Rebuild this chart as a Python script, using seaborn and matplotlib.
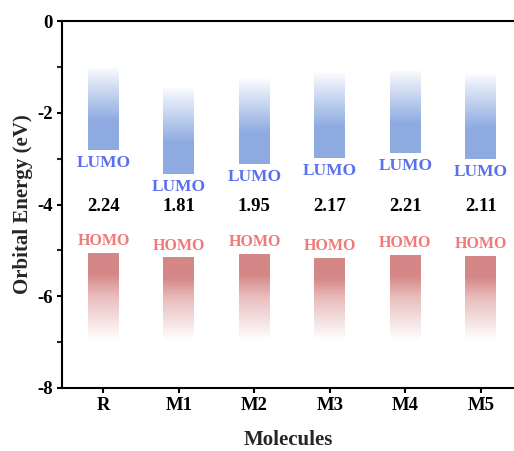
import numpy as np
import pandas as pd
import matplotlib
matplotlib.use("Agg")
import matplotlib.pyplot as plt
from matplotlib.colors import LinearSegmentedColormap
from matplotlib.ticker import MultipleLocator
import seaborn as sns

molecules = ["R", "M1", "M2", "M3", "M4", "M5"]
lumo = [-2.81, -3.34, -3.12, -2.99, -2.88, -3.01]
homo = [-5.05, -5.15, -5.07, -5.16, -5.09, -5.12]
gap_labels = ["2.24", "1.81", "1.95", "2.17", "2.21", "2.11"]
lumo_top = [-1.02, -1.46, -1.26, -1.13, -1.09, -1.15]
homo_bottom = [-6.95, -6.95, -6.95, -6.95, -6.95, -6.95]

sns.set_theme(style="white")
plt.rcParams['font.family'] = ['Liberation Serif', 'DejaVu Serif']
plt.rcParams['font.weight'] = 'bold'
plt.rcParams['axes.unicode_minus'] = False

fig = plt.figure(figsize=(5.14, 4.51), dpi=100)
ax = fig.add_axes([0.1206, 0.1397, 0.8794, 0.8133])

df = pd.DataFrame({
    "Molecules": molecules,
    "lumo_h": np.array(lumo_top) - np.array(lumo),
    "lumo_b": lumo,
    "homo_h": np.array(homo) - np.array(homo_bottom),
    "homo_b": homo_bottom,
})

n0 = len(ax.patches)
sns.barplot(data=df, x="Molecules", y="lumo_h", bottom=df["lumo_b"].values,
            width=0.41, color="#8caae0", ax=ax, errorbar=None)
lumo_patches = ax.patches[n0:]
n1 = len(ax.patches)
sns.barplot(data=df, x="Molecules", y="homo_h", bottom=df["homo_b"].values,
            width=0.41, color="#d68787", ax=ax, errorbar=None)
homo_patches = ax.patches[n1:]

blue_cmap = LinearSegmentedColormap.from_list(
    "b", [(0.0, "#8eabe1"), (0.36, "#8eabe1"), (1.0, "#fbfcfe")])
red_cmap = LinearSegmentedColormap.from_list(
    "r", [(0.0, "#ffffff"), (0.5, "#e9bdbd"), (0.75, "#d58787"), (1.0, "#d58787")])

grad = np.linspace(0, 1, 256).reshape(-1, 1)
for patches, cmap in ((lumo_patches, blue_cmap), (homo_patches, red_cmap)):
    for p in patches:
        x0, y0 = p.get_x(), p.get_y()
        w, h = p.get_width(), p.get_height()
        p.set_facecolor("none")
        p.set_edgecolor("none")
        im = ax.imshow(grad, cmap=cmap, aspect="auto", origin="lower",
                       extent=[x0, x0 + w, y0, y0 + h], zorder=p.get_zorder())
        im.set_clip_path(p)

for i in range(len(molecules)):
    ax.text(i, lumo[i] - 0.1, "LUMO", color="#5b70ee", fontsize=12.5,
            fontweight="bold", ha="center", va="top")
    ax.text(i, homo[i] + 0.08, "HOMO", color="#f07a7a", fontsize=11.5,
            fontweight="bold", ha="center", va="bottom")
    ax.text(i, -4.05, gap_labels[i], color="black", fontsize=13.5,
            fontweight="bold", ha="center", va="center")

ax.set_xlim(-0.55, 5.44)
ax.set_ylim(-8, 0)
ax.yaxis.set_major_locator(MultipleLocator(2))
ax.yaxis.set_minor_locator(MultipleLocator(1))
ax.set_xlabel("Molecules", fontsize=15, fontweight="bold", labelpad=11)
ax.set_ylabel("Orbital Energy (eV)", fontsize=15, fontweight="bold", labelpad=3)

for s in ["left", "bottom", "top"]:
    ax.spines[s].set_linewidth(1.5)
    ax.spines[s].set_color("black")
ax.spines["right"].set_visible(False)

ax.tick_params(axis="both", which="major", direction="out", length=3.8, width=1.5,
               labelsize=13.5, color="black", labelcolor="black", left=True, bottom=True, pad=3)
ax.tick_params(axis="y", which="minor", direction="out", length=3.8, width=1.5,
               left=True)
for lab in ax.get_xticklabels() + ax.get_yticklabels():
    lab.set_fontweight("bold")

fig.savefig("out.png", dpi=100)
